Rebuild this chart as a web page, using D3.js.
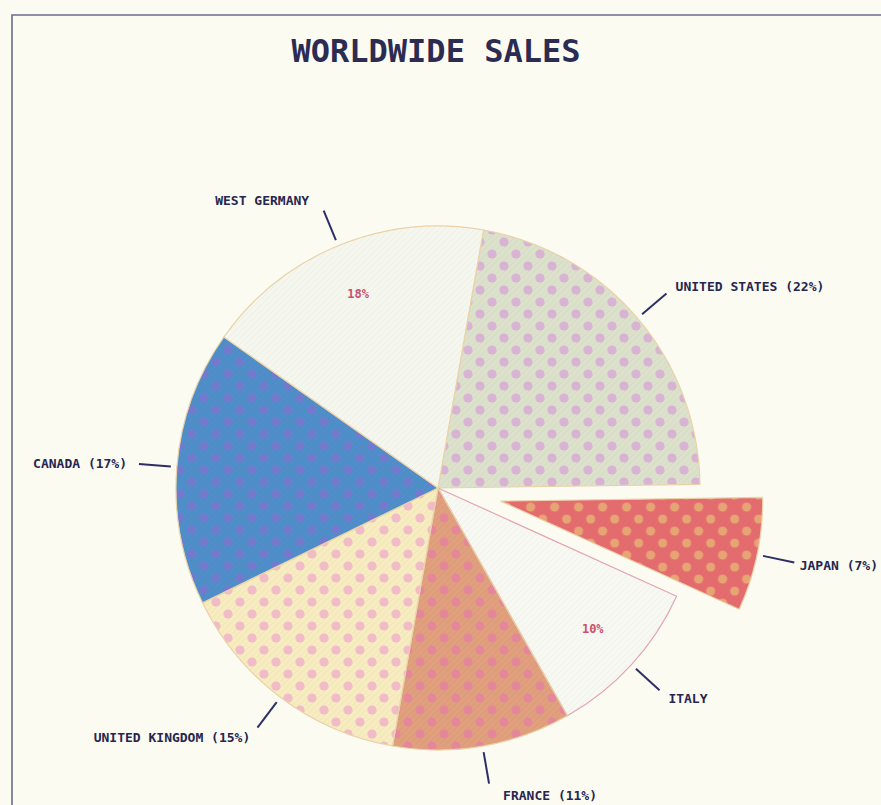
<!DOCTYPE html>
<html>
<head>
<meta charset="utf-8">
<script src="https://cdn.jsdelivr.net/npm/d3@7"></script>
<style>
  html, body { margin: 0; padding: 0; background: #fbfbf2; }
  svg { display: block; }
  text { font-family: "DejaVu Sans Mono", "Liberation Mono", monospace; font-weight: bold; }
</style>
</head>
<body>
<svg id="chart" width="881" height="805"></svg>
<script>
// Sales share by country, in percent, clockwise from just past 12 o'clock
const categories = ["UNITED STATES", "JAPAN", "ITALY", "FRANCE", "UNITED KINGDOM", "CANADA", "WEST GERMANY"];
const shares = [22, 7, 10, 11, 15, 17, 18];
// Slices whose percentage is written inside the wedge instead of beside the name
const insideLabels = ["ITALY", "WEST GERMANY"];
// Slice pulled out of the pie
const exploded = ["JAPAN"];

// Fill styles: base colour, dot colour (null = plain)
const baseColors = ["#dce1cb", "#e46c6e", "#f6f8f1", "#e0a07e", "#f6ecc0", "#4f8ec8", "#f5f7ef"];
const dotColors = ["#d6a4d6", "#e8b676", null, "#e67ea2", "#eeaacb", "#7f72d0", null];

const width = 881, height = 805;
const cx = 438, cy = 488, radius = 262;
const deg = Math.PI / 180;
const startDeg = 10;
const explodeDist = 64;

const svg = d3.select("#chart");

// Frame
svg.append("rect").attr("width", width).attr("height", height).attr("fill", "#fbfbf2");
svg.append("path")
  .attr("d", "M12,805 L12,15 L881,15")
  .attr("fill", "none").attr("stroke", "#6b6b92").attr("stroke-width", 1.6);

// Title
svg.append("text")
  .attr("x", 436).attr("y", 62)
  .attr("text-anchor", "middle")
  .attr("font-size", 32)
  .attr("fill", "#2c2c52")
  .text("WORLDWIDE SALES");

// Dot patterns for the wedges
const defs = svg.append("defs");
const P = 24;
categories.forEach((c, i) => {
  const p = defs.append("pattern")
    .attr("id", "pat" + i)
    .attr("patternUnits", "userSpaceOnUse")
    .attr("width", P).attr("height", P);
  p.append("rect").attr("width", P).attr("height", P).attr("fill", baseColors[i]);
  // fine cross-hatch texture
  p.append("path")
    .attr("d", "M0,6 L6,0 M0,12 L12,0 M0,18 L18,0 M0,24 L24,0 M6,24 L24,6 M12,24 L24,12 M18,24 L24,18")
    .attr("stroke", d3.color(baseColors[i]).darker(0.3))
    .attr("stroke-width", 0.6).attr("opacity", 0.45);
  if (dotColors[i]) {
    [[6, 6], [18, 18]].forEach(([x, y]) => {
      p.append("circle")
        .attr("cx", x).attr("cy", y).attr("r", 4.6)
        .attr("fill", dotColors[i]).attr("opacity", 0.75);
    });
  }
});

const pie = d3.pie().sort(null).value(d => d)
  .startAngle(startDeg * deg).endAngle((startDeg + 360) * deg);
const arcs = pie(shares);
const arc = d3.arc().innerRadius(0).outerRadius(radius);

function offsetOf(i) {
  if (!exploded.includes(categories[i])) return [0, 0];
  const m = (arcs[i].startAngle + arcs[i].endAngle) / 2;
  return [explodeDist * Math.sin(m), -explodeDist * Math.cos(m)];
}
function polar(a, r) { return [r * Math.sin(a), -r * Math.cos(a)]; }

const g = svg.append("g").attr("transform", `translate(${cx},${cy})`);

// Wedges
g.selectAll("path.slice")
  .data(arcs)
  .join("path")
  .attr("class", "slice")
  .attr("transform", (d, i) => `translate(${offsetOf(i)})`)
  .attr("d", arc)
  .attr("fill", (d, i) => `url(#pat${i})`)
  .attr("stroke", (d, i) => i === 2 ? "#e3a4b4" : "#ead2a8")
  .attr("stroke-width", 1.2);

// Percentages written inside wedges
arcs.forEach((d, i) => {
  if (!insideLabels.includes(categories[i])) return;
  const m = (d.startAngle + d.endAngle) / 2;
  const [x, y] = polar(m, radius * 0.8);
  const o = offsetOf(i);
  g.append("text")
    .attr("x", x + o[0]).attr("y", y + o[1] + 4)
    .attr("text-anchor", "middle")
    .attr("font-size", 12)
    .attr("fill", "#c9506e")
    .text(shares[i] + "%");
});

// Leader lines and outer labels
arcs.forEach((d, i) => {
  const m = (d.startAngle + d.endAngle) / 2;
  const o = offsetOf(i);
  const [x1, y1] = polar(m, radius + 6);
  const [x2, y2] = polar(m, radius + 38);
  g.append("line")
    .attr("x1", x1 + o[0]).attr("y1", y1 + o[1])
    .attr("x2", x2 + o[0]).attr("y2", y2 + o[1])
    .attr("stroke", "#2e2e66").attr("stroke-width", 2);
  const [lx, ly] = polar(m, radius + 50);
  const right = Math.sin(m) >= 0;
  const label = insideLabels.includes(categories[i])
    ? categories[i]
    : `${categories[i]} (${shares[i]}%)`;
  // labels at near-vertical leader lines step sideways, clear of the line end
  const steep = Math.abs(Math.cos(m)) > 0.9;
  const nudge = steep ? (right ? 12 : -10) : 0;
  const t = g.append("text")
    .attr("x", lx + o[0] + nudge)
    .attr("y", ly + o[1] + 5)
    .attr("text-anchor", right ? "start" : "end")
    .attr("font-size", 13)
    .attr("fill", "#262650")
    .text(label);
  // keep the label inside the page
  const box = t.node().getBBox();
  const overflow = cx + box.x + box.width - (width - 3);
  if (overflow > 0) {
    t.attr("x", +t.attr("x") - Math.min(overflow, 8));
    const b2 = t.node().getBBox();
    if (cx + b2.x + b2.width > width - 3) {
      t.attr("textLength", width - 3 - cx - b2.x).attr("lengthAdjust", "spacingAndGlyphs");
    }
  }
});
</script>
</body>
</html>
